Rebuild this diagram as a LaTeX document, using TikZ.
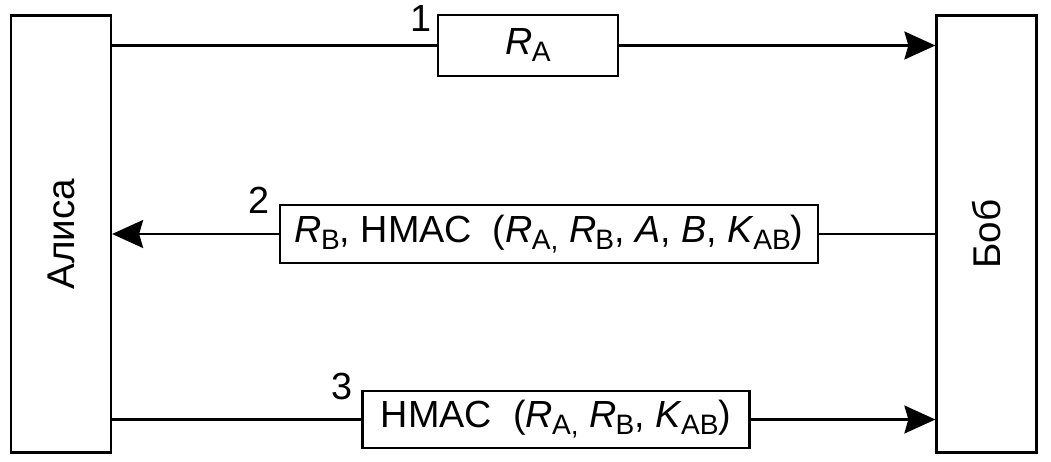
\documentclass[tikz,border=0pt]{standalone}
\usepackage{fontspec}
\setmainfont{Liberation Sans}
\usetikzlibrary{arrows.meta}
\newcommand{\subtxt}[1]{\raisebox{-0.35ex}{\fontsize{16}{18}\selectfont #1}}
\newcommand{\Rsub}[1]{\textit{R}\kern-0.5pt\subtxt{#1}}
\newcommand{\Ksub}[1]{\textit{K}\kern-0.5pt\subtxt{#1}}

\begin{document}
\begin{tikzpicture}[
  x=0.02cm, y=-0.02cm,
  party/.style={draw, line width=1.3pt, minimum width=2cm, minimum height=8.74cm,
    inner sep=0pt, font=\fontsize{22}{26}\selectfont},
  msg/.style={draw, line width=1.3pt, inner sep=0pt, font=\fontsize{21.5}{26}\selectfont},
  num/.style={inner sep=0pt, font=\fontsize{21.5}{26}\selectfont},
  wire/.style={line width=1.3pt},
  sendarrow/.style={wire, -{Stealth[length=0.62cm, width=0.56cm, inset=0.08cm]}}
]
  \useasboundingbox (0,0) rectangle (1051,462);

  % Parties
  \node[party] (alice) at (61,234)    {\rotatebox{90}{Алиса}};
  \node[party] (bob)   at (986.5,234) {\rotatebox{90}{Боб}};

  % Messages
  \node[msg, minimum width=3.6cm, minimum height=1.22cm]
    (m1) at (528,45.5) {\Rsub{A}};
  \node[msg, minimum width=10.76cm, minimum height=1.16cm]
    (m2) at (549,234) {\Rsub{B}, HMAC\ \ (\Rsub{A,} \Rsub{B}, \textit{A}, \textit{B}, \Ksub{AB})};
  \node[msg, minimum width=7.74cm, minimum height=1.14cm]
    (m3) at (556,419.5) {HMAC\ \ (\Rsub{A,} \Rsub{B}, \Ksub{AB})};

  % Step numbers
  \node[num] (n1) at (421,19)  {1};
  \node[num] (n2) at (259,200) {2};
  \node[num] (n3) at (342,386) {3};

  % Connectors
  \draw[wire] (alice.east |- m1) -- (m1.west);
  \draw[sendarrow] (m1.east) -- (bob.west |- m1);
  \draw[wire] (bob.west |- m2) -- (m2.east);
  \draw[sendarrow] (m2.west) -- (alice.east |- m2);
  \draw[wire] (alice.east |- m3) -- (m3.west);
  \draw[sendarrow] (m3.east) -- (bob.west |- m3);
\end{tikzpicture}
\end{document}
